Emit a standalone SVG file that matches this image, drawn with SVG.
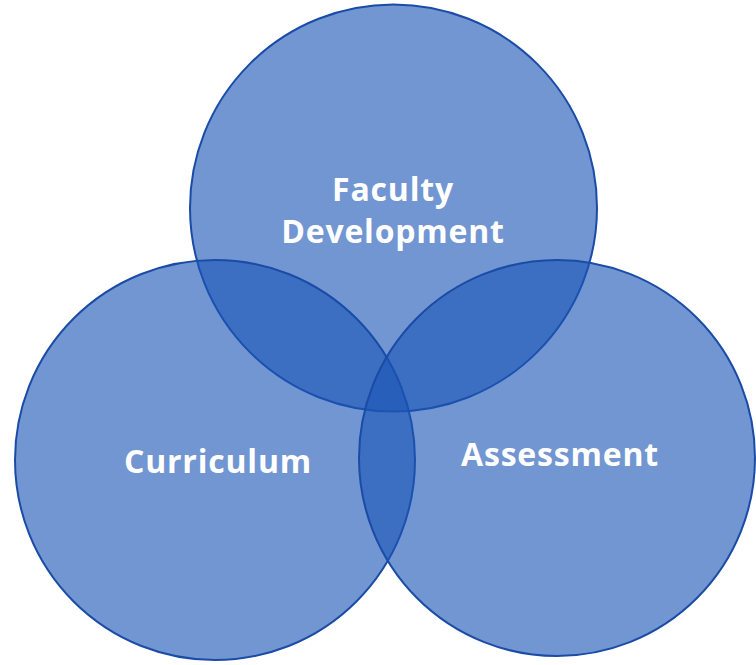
<svg xmlns="http://www.w3.org/2000/svg" width="756" height="665" viewBox="0 0 756 665">
  <style>
    .ring { fill: #1b55b6; fill-opacity: 0.62; stroke: #1a4ba6; stroke-width: 2; }
    .label { font-family: "Open Sans", "Liberation Sans", sans-serif; font-weight: bold; font-size: 32px; fill: #ffffff; text-anchor: middle; letter-spacing: 0.8px; }
  </style>
  <rect width="756" height="665" fill="#ffffff"/>
  <g id="faculty-development">
    <circle class="ring" cx="393.5" cy="208" r="203.5"/>
    <text class="label" x="393" y="201">Faculty</text>
    <text class="label" x="393" y="243">Development</text>
  </g>
  <g id="curriculum">
    <circle class="ring" cx="215" cy="460" r="200"/>
    <text class="label" x="218" y="473">Curriculum</text>
  </g>
  <g id="assessment">
    <circle class="ring" cx="557" cy="458" r="198"/>
    <text class="label" x="560" y="466">Assessment</text>
  </g>
  <g id="connectors"/>
</svg>
